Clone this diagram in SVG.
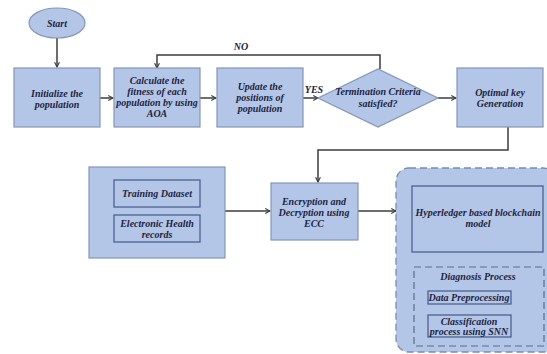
<svg xmlns="http://www.w3.org/2000/svg" width="547" height="354" viewBox="0 0 547 354">
<defs>
<style>
.box{fill:#b4c6e7;stroke:#8497b8;stroke-width:1.2}
.inner{fill:#b4c6e7;stroke:#4a6290;stroke-width:1.3}
.dash{fill:#b4c6e7;stroke:#7b8cab;stroke-width:1.3;stroke-dasharray:7 4}
.idash{fill:none;stroke:#5a6d90;stroke-width:1.2;stroke-dasharray:7 4}
.conn{fill:none;stroke:#3c3c3c;stroke-width:1.5}
text{font-family:'Liberation Serif', 'DejaVu Serif', serif;font-weight:700;font-style:italic;font-size:10px;fill:#1c2340;text-anchor:middle}
</style>
<marker id="arr" viewBox="0 0 10 10" refX="9" refY="5" markerWidth="6" markerHeight="6" orient="auto" markerUnits="userSpaceOnUse">
<path d="M1,1 L9,5 L1,9" fill="none" stroke="#3c3c3c" stroke-width="1.8"/>
</marker>
</defs>
<rect width="547" height="354" fill="#ffffff"/>
<g id="connectors">
<path class="conn" d="M57,38 V67" marker-end="url(#arr)"/>
<path class="conn" d="M100,98 H113" marker-end="url(#arr)"/>
<path class="conn" d="M200,98 H216" marker-end="url(#arr)"/>
<path class="conn" d="M303,98 H318" marker-end="url(#arr)"/>
<path class="conn" d="M438,98 H456" marker-end="url(#arr)"/>
<path class="conn" d="M380,69 V55 H157 V68" marker-end="url(#arr)"/>
<path class="conn" d="M508,127 V150 H318 V182" marker-end="url(#arr)"/>
<path class="conn" d="M225,211 H270" marker-end="url(#arr)"/>
<path class="conn" d="M358,211 H396" marker-end="url(#arr)"/>
<path class="conn" d="M478,252 V266" marker-end="url(#arr)"/>
<text x="241" y="50">NO</text>
<text x="314" y="93">YES</text>
</g>
<g id="start">
<ellipse cx="57" cy="23" rx="28" ry="15" class="box"/>
<text x="57" y="27">Start</text>
</g>
<g id="init">
<rect x="14" y="68" width="86" height="59" class="box"/>
<text x="57" y="97">Initialize the</text>
<text x="57" y="108">population</text>
</g>
<g id="fitness">
<rect x="114" y="68" width="86" height="59" class="box"/>
<text x="157" y="84">Calculate the</text>
<text x="157" y="95">fitness of each</text>
<text x="157" y="106">population by using</text>
<text x="157" y="117">AOA</text>
</g>
<g id="update">
<rect x="217" y="68" width="86" height="59" class="box"/>
<text x="260" y="90">Update the</text>
<text x="260" y="101">positions of</text>
<text x="260" y="112">population</text>
</g>
<g id="termination">
<polygon points="318,98 378,69 438,98 378,127" class="box"/>
<text x="378" y="95">Termination Criteria</text>
<text x="378" y="107">satisfied?</text>
</g>
<g id="optimal">
<rect x="457" y="68" width="86" height="59" class="box"/>
<text x="500" y="96">Optimal key</text>
<text x="500" y="107">Generation</text>
</g>
<g id="data">
<rect x="89" y="167" width="136" height="91" class="box"/>
<g id="training">
<rect x="114" y="180" width="86" height="27" class="inner"/>
<text x="157" y="197">Training Dataset</text>
</g>
<g id="ehr">
<rect x="114" y="215" width="86" height="27" class="inner"/>
<text x="157" y="227">Electronic Health</text>
<text x="157" y="238">records</text>
</g>
</g>
<g id="ecc">
<rect x="271" y="183" width="87" height="57" class="box"/>
<text x="314" y="205">Encryption and</text>
<text x="314" y="216">Decryption using</text>
<text x="314" y="227">ECC</text>
</g>
<g id="blockchain-container">
<rect x="396" y="168" width="160" height="184" rx="13" class="dash"/>
<g id="hyperledger">
<rect x="412" y="186" width="131" height="66" class="inner"/>
<text x="478" y="216">Hyperledger based blockchain</text>
<text x="478" y="227">model</text>
</g>
<g id="diagnosis">
<rect x="414" y="267" width="130" height="79" class="idash"/>
<text x="478" y="280">Diagnosis Process</text>
<g id="preprocessing">
<rect x="428" y="291" width="83" height="13" class="inner"/>
<text x="469" y="301">Data Preprocessing</text>
</g>
<g id="classification">
<rect x="428" y="315" width="83" height="22" class="inner"/>
<text x="469" y="325">Classification</text>
<text x="469" y="335">process using SNN</text>
</g>
</g>
</g>
</svg>
